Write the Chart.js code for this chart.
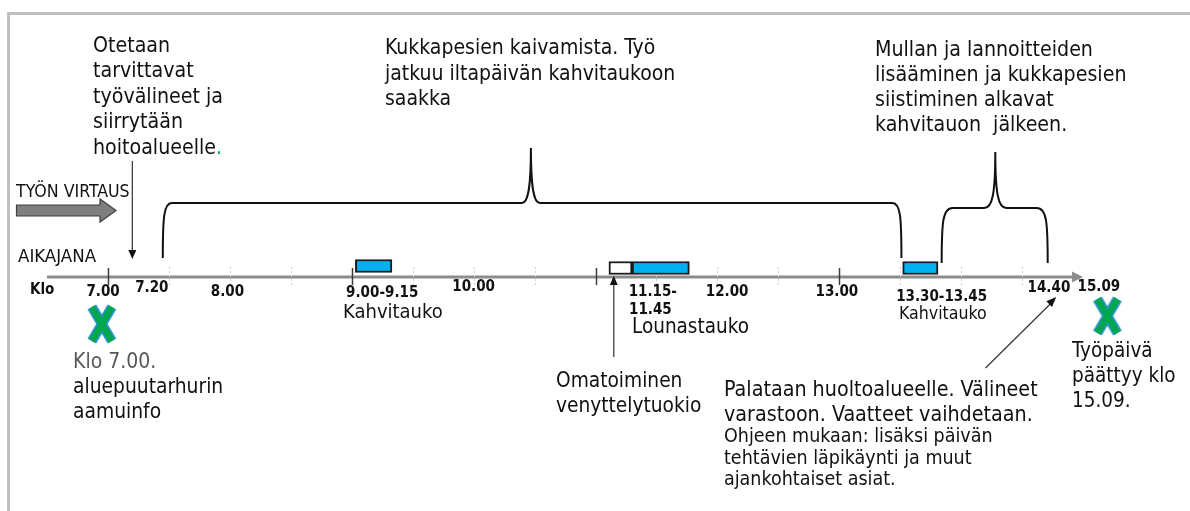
<!DOCTYPE html>
<html><head><meta charset="utf-8">
<script src="https://cdn.jsdelivr.net/npm/chart.js@4"></script>
<style>html,body{margin:0;padding:0;background:#fff;overflow:hidden}</style>
</head><body>
<canvas id="c" width="1190" height="511"></canvas>
<script>
// ---------------- data (hours of the working day) ----------------
const axisRange     = [6.5, 15.0];
const scaleRange    = [6.5, 15.5];
const majorTicks    = [7, 9, 11, 13];
const minorTicks    = [7.5, 8, 8.5, 9.5, 10, 10.5, 11.5, 12, 12.5, 13.5, 14, 14.5];
const tickLabels    = ['7.00', '7.20', '8.00', '9.00-9.15', '10.00', '11.15-', '11.45', '12.00', '13.00', '13.30-13.45', '14.40', '15.09'];
const tickLabelAt   = [6.96, 7.36, 7.98, 9.25, 10.0, 11.47, 11.45, 12.08, 12.98, 13.84, 14.72, 15.13];
const breakNames    = ['Kahvitauko', 'Lounastauko', 'Kahvitauko'];
const breakStart    = [9.03, 11.30, 13.52];
const breakEnd      = [9.33, 11.77, 13.81];
const stretchStart  = [11.11];
const stretchEnd    = [11.30];
const markerTimes   = [6.95, 15.2];
const phaseStart    = [7.45, 13.84];
const phasePeak     = [10.47, 14.28];
const phaseEnd      = [13.51, 14.71];
const pointerTimes  = [7.2, 11.15];

// ---------------- layout / style ----------------
const FONT = "'DejaVu Sans Condensed', 'DejaVu Sans', sans-serif";
const AXIS_Y = 277;
const BAR_Y = [266, 268, 268];
const MARKER_Y = [324, 316];

function makeX() {
  const c = document.createElement('canvas');
  c.width = 30; c.height = 40;
  const g = c.getContext('2d');
  g.lineCap = 'butt';
  const draw = (w, col) => {
    g.strokeStyle = col; g.lineWidth = w;
    g.beginPath(); g.moveTo(5, 3); g.lineTo(25, 37); g.stroke();
    g.beginPath(); g.moveTo(25, 3); g.lineTo(5, 37); g.stroke();
  };
  draw(10, '#2a93cc');
  draw(6.5, '#00a650');
  return c;
}
const xIcon = makeX();

function lines(ctx, arr, x, y, lh, size, color, weight) {
  ctx.font = (weight || 'normal') + ' ' + size + 'px ' + FONT;
  ctx.fillStyle = color || '#111';
  ctx.textAlign = 'left';
  ctx.textBaseline = 'middle';
  arr.forEach((t, i) => ctx.fillText(t, x, y + i * lh));
}

function brace(ctx, xs, xp, xe, yB, yM, yT, r) {
  ctx.beginPath();
  ctx.moveTo(xs, yB);
  ctx.bezierCurveTo(xs, yM + 14, xs + 1, yM, xs + r, yM);
  ctx.lineTo(xp - r, yM);
  ctx.bezierCurveTo(xp - 3, yM, xp, yM - 14, xp, yT);
  ctx.moveTo(xp, yT);
  ctx.bezierCurveTo(xp, yM - 14, xp + 3, yM, xp + r, yM);
  ctx.lineTo(xe - r, yM);
  ctx.bezierCurveTo(xe - 1, yM, xe, yM + 14, xe, yB);
  ctx.stroke();
}

function arrowHead(ctx, x1, y1, x2, y2, len, half) {
  const a = Math.atan2(y2 - y1, x2 - x1);
  ctx.beginPath();
  ctx.moveTo(x2, y2);
  ctx.lineTo(x2 - len * Math.cos(a) + half * Math.sin(a), y2 - len * Math.sin(a) - half * Math.cos(a));
  ctx.lineTo(x2 - len * Math.cos(a) - half * Math.sin(a), y2 - len * Math.sin(a) + half * Math.cos(a));
  ctx.closePath();
  ctx.fill();
}

const timeline = {
  id: 'timeline',
  beforeDatasetsDraw(chart) {
    const ctx = chart.ctx, xs = chart.scales.x;
    const px = v => xs.getPixelForValue(v);
    ctx.save();
    // frame
    ctx.strokeStyle = '#c0c0c0'; ctx.lineWidth = 3;
    ctx.beginPath(); ctx.moveTo(8.5, 511); ctx.lineTo(8.5, 13.5); ctx.lineTo(1190, 13.5); ctx.stroke();
    // axis line with arrow
    const x0 = px(axisRange[0]), x1 = px(axisRange[1]);
    ctx.strokeStyle = '#8c8c8c'; ctx.fillStyle = '#8c8c8c'; ctx.lineWidth = 3;
    ctx.beginPath(); ctx.moveTo(x0, AXIS_Y); ctx.lineTo(x1 - 8, AXIS_Y); ctx.stroke();
    ctx.beginPath(); ctx.moveTo(x1, AXIS_Y); ctx.lineTo(x1 - 11, AXIS_Y - 5.5); ctx.lineTo(x1 - 11, AXIS_Y + 5.5); ctx.closePath(); ctx.fill();
    // minor ticks
    ctx.strokeStyle = '#cfcfcf'; ctx.lineWidth = 1; ctx.setLineDash([2, 2]);
    minorTicks.forEach(t => { const x = Math.round(px(t)) + 0.5; ctx.beginPath(); ctx.moveTo(x, AXIS_Y - 10); ctx.lineTo(x, AXIS_Y + 10); ctx.stroke(); });
    ctx.setLineDash([]);
    ctx.strokeStyle = '#3c3c3c'; ctx.lineWidth = 1.5;
    majorTicks.forEach(t => { const x = Math.round(px(t)) + 0.5; ctx.beginPath(); ctx.moveTo(x, AXIS_Y - 9); ctx.lineTo(x, AXIS_Y + 8); ctx.stroke(); });
    // tick labels
    ctx.font = 'bold 15px ' + FONT; ctx.fillStyle = '#111'; ctx.textBaseline = 'middle'; ctx.textAlign = 'center';
    const labY = [292, 288, 292, 293, 287, 292, 310, 292, 292, 297, 288, 287];
    tickLabels.forEach((s, i) => ctx.fillText(s, px(tickLabelAt[i]), labY[i]));
    ctx.textAlign = 'left';
    ctx.fillText('Klo', 30, 290);
    // braces
    ctx.strokeStyle = '#111'; ctx.lineWidth = 2;
    brace(ctx, px(phaseStart[0]), px(phasePeak[0]), px(phaseEnd[0]), 258, 203, 148, 9);
    brace(ctx, px(phaseStart[1]), px(phasePeak[1]), px(phaseEnd[1]), 263, 208, 152, 11);
    // pointer arrows
    ctx.strokeStyle = '#333'; ctx.fillStyle = '#111'; ctx.lineWidth = 1.2;
    const pa = px(pointerTimes[0]);
    ctx.beginPath(); ctx.moveTo(pa, 161); ctx.lineTo(pa, 252); ctx.stroke();
    arrowHead(ctx, pa, 161, pa, 259, 9, 4);
    const pb = px(pointerTimes[1]);
    ctx.beginPath(); ctx.moveTo(pb, 357); ctx.lineTo(pb, 283); ctx.stroke();
    arrowHead(ctx, pb, 357, pb, 276, 9, 4);
    const d1 = px(14.2), d2 = px(14.78);
    ctx.beginPath(); ctx.moveTo(d1, 368); ctx.lineTo(d2 - 5, 303); ctx.stroke();
    arrowHead(ctx, d1, 368, d2, 297, 10, 4);
    // TYÖN VIRTAUS block arrow
    ctx.fillStyle = '#7f7f7f'; ctx.strokeStyle = '#3f3f3f'; ctx.lineWidth = 1.2;
    ctx.beginPath();
    ctx.moveTo(16.5, 205); ctx.lineTo(100, 205); ctx.lineTo(100, 199); ctx.lineTo(116, 210.5);
    ctx.lineTo(100, 222); ctx.lineTo(100, 216); ctx.lineTo(16.5, 216); ctx.closePath();
    ctx.fill(); ctx.stroke();
    ctx.restore();
  },
  afterDatasetsDraw(chart) {
    const ctx = chart.ctx;
    ctx.save();
    lines(ctx, ['Otetaan', 'tarvittavat', 'työvälineet ja', 'siirrytään'], 93, 46, 25.5, 21.2);
    lines(ctx, ['hoitoalueelle'], 93, 148, 25, 21.2);
    const w = ctx.measureText('hoitoalueelle').width;
    lines(ctx, ['.'], 93 + w, 148, 25, 21.2, '#00b050');
    lines(ctx, ['Kukkapesien kaivamista. Työ', 'jatkuu iltapäivän kahvitaukoon', 'saakka'], 385, 49, 25.5, 21);
    lines(ctx, ['Mullan ja lannoitteiden', 'lisääminen ja kukkapesien', 'siistiminen alkavat', 'kahvitauon  jälkeen.'], 875, 50, 25.3, 21.2);
    lines(ctx, ['TYÖN VIRTAUS'], 16, 192, 20, 17.6);
    lines(ctx, ['AIKAJANA'], 18, 257, 20, 18.5);
    lines(ctx, [breakNames[0]], 343, 313, 20, 20);
    lines(ctx, [breakNames[1]], 632, 328, 20, 20.5);
    lines(ctx, [breakNames[2]], 899, 314, 20, 17.6);
    lines(ctx, ['Klo 7.00.'], 73, 363, 25, 21, '#595959');
    lines(ctx, ['aluepuutarhurin', 'aamuinfo'], 73, 388, 25, 20.8);
    lines(ctx, ['Omatoiminen', 'venyttelytuokio'], 556, 382, 24.5, 20.7);
    lines(ctx, ['Palataan huoltoalueelle. Välineet', 'varastoon. Vaatteet vaihdetaan.'], 724, 390, 25, 21.3);
    lines(ctx, ['Ohjeen mukaan: lisäksi päivän', 'tehtävien läpikäynti ja muut', 'ajankohtaiset asiat.'], 724, 437, 21.5, 19.5);
    lines(ctx, ['Työpäivä', 'päättyy klo', '15.09.'], 1072, 352, 25, 20.5);
    ctx.restore();
  }
};

new Chart(document.getElementById('c'), {
  data: {
    datasets: [
      {
        type: 'bar', indexAxis: 'y', grouped: false,
        data: breakStart.map((s, i) => ({ x: [s, breakEnd[i]], y: BAR_Y[i] })),
        backgroundColor: '#00b0f0', borderColor: '#1a1a1a', borderWidth: 2,
        borderSkipped: false, barThickness: 13
      },
      {
        type: 'bar', indexAxis: 'y', grouped: false,
        data: stretchStart.map((s, i) => ({ x: [s, stretchEnd[i]], y: BAR_Y[1] })),
        backgroundColor: '#ffffff', borderColor: '#1a1a1a', borderWidth: 2,
        borderSkipped: false, barThickness: 13
      },
      {
        type: 'scatter', clip: false,
        data: markerTimes.map((t, i) => ({ x: t, y: MARKER_Y[i] })),
        pointStyle: xIcon, pointRadius: 15
      }
    ]
  },
  options: {
    responsive: false, animation: false, events: [],
    layout: { autoPadding: false, padding: { left: 47, right: 46, top: 0, bottom: 0 } },
    scales: {
      x: { type: 'linear', min: scaleRange[0], max: scaleRange[1], offset: false, display: false },
      y: { type: 'linear', min: 0, max: 511, reverse: true, offset: false, display: false }
    },
    plugins: { legend: { display: false }, tooltip: { enabled: false } }
  },
  plugins: [timeline]
});
</script>
</body></html>
